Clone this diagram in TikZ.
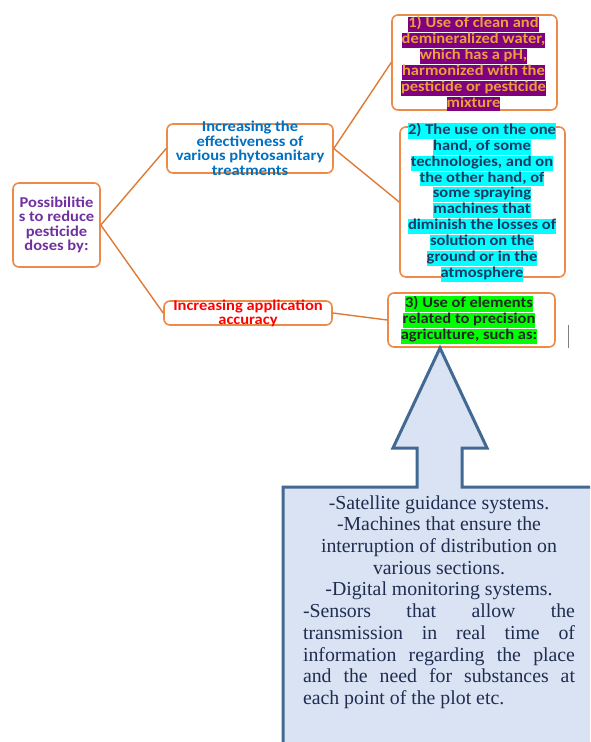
\documentclass[tikz,border=0pt]{standalone}
\usepackage{fontspec}
\setmainfont{Carlito}
\newfontfamily\topicfamily[FakeStretch=1.1]{Carlito}
\newfontfamily\notefont{Liberation Serif}
\usepackage{tikz}
\usetikzlibrary{positioning}
\definecolor{boxorange}{RGB}{237,138,72}
\definecolor{linkorange}{RGB}{222,122,52}
\definecolor{rootpurple}{RGB}{112,48,160}
\definecolor{midblue}{RGB}{0,112,192}
\definecolor{leafpurple}{RGB}{128,0,128}
\definecolor{leafgold}{RGB}{232,160,60}
\definecolor{leafnavy}{RGB}{31,56,100}
\definecolor{leafcyan}{RGB}{0,255,255}
\definecolor{leafgreen}{RGB}{0,255,0}
\definecolor{notefill}{RGB}{218,227,243}
\definecolor{noteedge}{RGB}{65,105,145}
\definecolor{notetext}{RGB}{31,45,80}
\newcommand\topicfont{\topicfamily\fontsize{15}{14.5}\selectfont\bfseries}
\newcommand\markline[2]{{\setlength\fboxsep{0pt}\colorbox{#1}{\strut #2}}}
\tikzset{
    topicbox/.style={draw=boxorange, line width=1.6pt, rounded corners=6pt, fill=white, inner sep=0pt},
    topictext/.style={font=\topicfont, align=center, inner sep=0pt},
    link/.style={draw=linkorange, line width=1.4pt},
    notebox/.style={draw=noteedge, line width=3pt, fill=notefill, line join=miter},
    notetextstyle/.style={text=notetext, text width=272pt, align=justify, inner sep=0pt,
        font={\notefont\fontsize{19.8}{21.7}\selectfont}}
}

\begin{document}
\begin{tikzpicture}[x=1pt, y=-1pt]
    \useasboundingbox (0,0) rectangle (590,742);

    % Boxes
    \node[topicbox, minimum width=87pt, minimum height=84pt] (root) at (56.5, 225) {};
    \node[topicbox, minimum width=166pt, minimum height=49pt] (mid1) at (250, 148.5) {};
    \node[topicbox, minimum width=168pt, minimum height=24pt] (mid2) at (248, 313) {};
    \node[topicbox, minimum width=165pt, minimum height=95pt] (leaf1) at (474.5, 62.5) {};
    \node[topicbox, minimum width=165pt, minimum height=150pt] (leaf2) at (482.5, 202) {};
    \node[topicbox, minimum width=167pt, minimum height=54pt] (leaf3) at (471.5, 320) {};

    % Connectors
    \draw[link] (root.east) -- (mid1.west);
    \draw[link] (root.east) -- (mid2.west);
    \draw[link] (mid1.east) -- (leaf1.west);
    \draw[link] (mid1.east) -- (leaf2.west);
    \draw[link] (mid2.east) -- (leaf3.west);

    % Texts
    \node[topictext, text=rootpurple] (roottext) at (root) {Possibilitie\\s to reduce\\pesticide\\doses by:};
    \node[topictext, text=midblue] (mid1text) at (mid1) {Increasing the\\effectiveness of\\various phytosanitary\\treatments};
    \node[topictext, text=red] (mid2text) at (248, 313.5) {Increasing application\\accuracy};
    \node[topictext, text=leafgold] (leaf1text) at (473.5, 64) {%
        \markline{leafpurple}{1) Use of clean and}\\
        \markline{leafpurple}{demineralized water,}\\
        \markline{leafpurple}{which has a pH,}\\
        \markline{leafpurple}{harmonized with the}\\
        \markline{leafpurple}{pesticide or pesticide}\\
        \markline{leafpurple}{mixture}};
    \node[topictext, text=leafnavy] (leaf2text) at (482, 202.5) {%
        \markline{leafcyan}{2) The use on the one}\\
        \markline{leafcyan}{hand, of some}\\
        \markline{leafcyan}{technologies, and on}\\
        \markline{leafcyan}{the other hand, of}\\
        \markline{leafcyan}{some spraying}\\
        \markline{leafcyan}{machines that}\\
        \markline{leafcyan}{diminish the losses of}\\
        \markline{leafcyan}{solution on the}\\
        \markline{leafcyan}{ground or in the}\\
        \markline{leafcyan}{atmosphere}};
    \node[topictext, text=black!85] (leaf3text) at (469, 320) {%
        \markline{leafgreen}{3) Use of elements}\\
        \markline{leafgreen}{related to precision}\\
        \markline{leafgreen}{agriculture, such as:}};

    % Callout arrow box
    \begin{scope}
        \clip (0,0) rectangle (590,742);
        \draw[notebox] (283,487) -- (417,487) -- (417,448) -- (393,448) -- (440,348)
            -- (487,448) -- (462,448) -- (462,487) -- (600,487) -- (600,760) -- (283,760) -- cycle;
    \end{scope}
    \node[notetextstyle] (notes) at (439, 602) {%
        {\centering -Satellite guidance systems.\\
        -Machines that ensure the\\
        interruption of distribution on\\
        various sections.\\
        -Digital monitoring systems.\par}
        \noindent -Sensors that allow the\linebreak
        transmission in real time of\linebreak
        information regarding the place\linebreak
        and the need for substances at\linebreak
        each point of the plot etc.};

    % Cursor mark
    \draw[gray, line width=1pt] (568,325) -- (568,348);
\end{tikzpicture}
\end{document}
